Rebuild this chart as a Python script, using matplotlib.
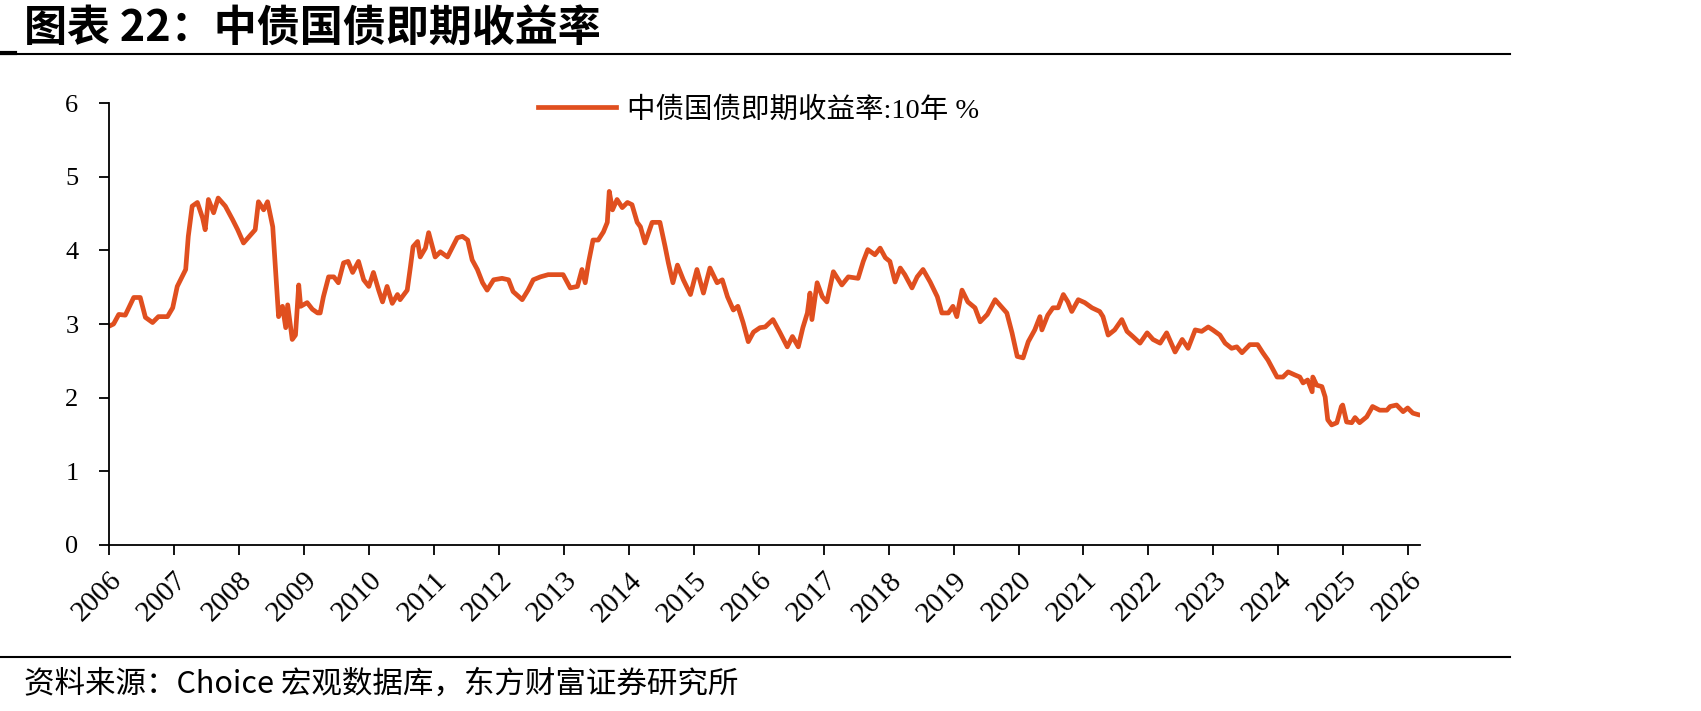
import matplotlib
matplotlib.use("Agg")
import matplotlib.pyplot as plt
from matplotlib.lines import Line2D

# 中债国债即期收益率:10年 (%)
years = [
    2006.00, 2006.07, 2006.15, 2006.25, 2006.38, 2006.48, 2006.56, 2006.67, 2006.76, 2006.90,
    2006.98, 2007.05, 2007.18, 2007.22, 2007.28, 2007.36, 2007.44, 2007.48, 2007.53, 2007.61,
    2007.68, 2007.79, 2007.90, 2007.98, 2008.07, 2008.18, 2008.25, 2008.30, 2008.38, 2008.44,
    2008.52, 2008.56, 2008.61, 2008.67, 2008.72, 2008.75, 2008.82, 2008.87, 2008.92, 2008.95,
    2009.05, 2009.13, 2009.21, 2009.25, 2009.30, 2009.38, 2009.46, 2009.53, 2009.61, 2009.68,
    2009.75, 2009.84, 2009.92, 2010.00, 2010.07, 2010.15, 2010.21, 2010.28, 2010.36, 2010.44,
    2010.48, 2010.59, 2010.64, 2010.68, 2010.75, 2010.79, 2010.87, 2010.92, 2011.02, 2011.10,
    2011.21, 2011.28, 2011.36, 2011.44, 2011.52, 2011.59, 2011.67, 2011.75, 2011.82, 2011.92,
    2012.05, 2012.15, 2012.22, 2012.36, 2012.45, 2012.53, 2012.64, 2012.76, 2012.82, 2012.99,
    2013.10, 2013.21, 2013.28, 2013.33, 2013.38, 2013.45, 2013.53, 2013.61, 2013.67, 2013.70,
    2013.75, 2013.82, 2013.90, 2013.98, 2014.05, 2014.13, 2014.18, 2014.25, 2014.36, 2014.48,
    2014.56, 2014.61, 2014.68, 2014.75, 2014.84, 2014.95, 2015.05, 2015.15, 2015.25, 2015.36,
    2015.44, 2015.52, 2015.61, 2015.68, 2015.76, 2015.84, 2015.92, 2016.02, 2016.10, 2016.22,
    2016.33, 2016.44, 2016.52, 2016.61, 2016.68, 2016.75, 2016.79, 2016.82, 2016.90, 2016.98,
    2017.05, 2017.15, 2017.28, 2017.38, 2017.53, 2017.61, 2017.68, 2017.79, 2017.87, 2017.95,
    2018.02, 2018.10, 2018.18, 2018.25, 2018.36, 2018.44, 2018.53, 2018.64, 2018.75, 2018.82,
    2018.92, 2018.99, 2019.05, 2019.13, 2019.22, 2019.33, 2019.41, 2019.52, 2019.64, 2019.75,
    2019.82, 2019.90, 2019.98, 2020.07, 2020.15, 2020.25, 2020.33, 2020.36, 2020.45, 2020.53,
    2020.61, 2020.69, 2020.76, 2020.82, 2020.92, 2021.02, 2021.13, 2021.25, 2021.30, 2021.38,
    2021.48, 2021.59, 2021.67, 2021.76, 2021.87, 2021.98, 2022.07, 2022.18, 2022.28, 2022.41,
    2022.52, 2022.61, 2022.72, 2022.82, 2022.92, 2022.99, 2023.10, 2023.18, 2023.28, 2023.36,
    2023.44, 2023.56, 2023.68, 2023.76, 2023.84, 2023.92, 2023.98, 2024.07, 2024.15, 2024.25,
    2024.33, 2024.38, 2024.45, 2024.52, 2024.53, 2024.59, 2024.67, 2024.72, 2024.76, 2024.82,
    2024.90, 2024.97, 2024.99, 2025.05, 2025.13, 2025.18, 2025.25, 2025.36, 2025.45, 2025.56,
    2025.67, 2025.72, 2025.82, 2025.92, 2025.99, 2026.07, 2026.15,
]
yields = [
    2.97, 3.00, 3.13, 3.12, 3.36, 3.36, 3.09, 3.02, 3.10, 3.10,
    3.22, 3.51, 3.74, 4.19, 4.60, 4.65, 4.44, 4.28, 4.69, 4.51,
    4.71, 4.60, 4.42, 4.28, 4.10, 4.21, 4.28, 4.66, 4.55, 4.66,
    4.32, 3.78, 3.10, 3.24, 2.95, 3.26, 2.79, 2.85, 3.53, 3.24,
    3.29, 3.20, 3.15, 3.15, 3.37, 3.64, 3.64, 3.56, 3.83, 3.85,
    3.70, 3.85, 3.60, 3.51, 3.70, 3.46, 3.30, 3.51, 3.28, 3.40,
    3.33, 3.46, 3.78, 4.05, 4.12, 3.91, 4.03, 4.24, 3.91, 3.98,
    3.91, 4.03, 4.17, 4.19, 4.14, 3.87, 3.74, 3.56, 3.46, 3.60,
    3.62, 3.60, 3.44, 3.33, 3.46, 3.60, 3.64, 3.67, 3.67, 3.67,
    3.49, 3.51, 3.74, 3.56, 3.83, 4.14, 4.14, 4.25, 4.38, 4.80,
    4.55, 4.69, 4.58, 4.65, 4.62, 4.38, 4.32, 4.10, 4.38, 4.38,
    4.05, 3.83, 3.56, 3.80, 3.60, 3.40, 3.74, 3.42, 3.76, 3.56,
    3.60, 3.37, 3.19, 3.24, 3.02, 2.76, 2.89, 2.95, 2.96, 3.06,
    2.88, 2.69, 2.83, 2.69, 2.95, 3.15, 3.42, 3.06, 3.56, 3.37,
    3.30, 3.71, 3.53, 3.64, 3.62, 3.85, 4.01, 3.94, 4.03, 3.90,
    3.85, 3.57, 3.76, 3.67, 3.49, 3.64, 3.74, 3.57, 3.37, 3.15,
    3.15, 3.24, 3.10, 3.46, 3.30, 3.22, 3.03, 3.13, 3.33, 3.22,
    3.15, 2.88, 2.56, 2.54, 2.76, 2.92, 3.10, 2.92, 3.12, 3.22,
    3.22, 3.40, 3.30, 3.17, 3.33, 3.29, 3.22, 3.17, 3.10, 2.85,
    2.92, 3.06, 2.90, 2.83, 2.74, 2.88, 2.79, 2.74, 2.88, 2.62,
    2.79, 2.67, 2.92, 2.90, 2.96, 2.92, 2.85, 2.74, 2.67, 2.69,
    2.61, 2.72, 2.72, 2.61, 2.51, 2.38, 2.28, 2.28, 2.35, 2.31,
    2.28, 2.20, 2.24, 2.08, 2.28, 2.17, 2.15, 2.01, 1.70, 1.63,
    1.66, 1.88, 1.90, 1.67, 1.66, 1.73, 1.66, 1.74, 1.88, 1.83,
    1.83, 1.88, 1.90, 1.81, 1.86, 1.79, 1.77,
]
year_ticks = list(range(2006, 2027))
y_ticks = [0, 1, 2, 3, 4, 5, 6]

series_name = "中债国债即期收益率:10年 %"
title = "图表 22：中债国债即期收益率"
source = "资料来源：Choice 宏观数据库，东方财富证券研究所"

line_color = "#E04F1F"
serif = ["Liberation Serif", "Noto Sans CJK SC"]
cjk = ["Noto Sans CJK SC", "DejaVu Sans"]

fig = plt.figure(figsize=(17.01, 7.11), dpi=100)
ax = fig.add_axes([0.0641, 0.2335, 0.7707, 0.6216])

ax.plot(years, yields, color=line_color, linewidth=3.4, solid_joinstyle="round")

ax.set_xlim(2006, 2026.18)
ax.set_ylim(0, 6)
ax.set_xticks(year_ticks)
ax.set_yticks(y_ticks)
ax.set_xticklabels([str(y) for y in year_ticks], rotation=45, ha="right",
                   va="top", rotation_mode="anchor", family=serif, fontsize=21)
ax.set_yticklabels([str(v) for v in y_ticks], family=serif, fontsize=19)
ax.tick_params(axis="x", direction="out", length=7, width=1.3, pad=9)
ax.tick_params(axis="y", direction="out", length=7, width=1.3, pad=15)

for side in ["top", "right"]:
    ax.spines[side].set_visible(False)
for side in ["left", "bottom"]:
    ax.spines[side].set_linewidth(1.3)

leg = ax.legend([Line2D([], [], color=line_color, linewidth=3.4)], [series_name],
                loc="center", bbox_to_anchor=(0.446, 0.845), bbox_transform=fig.transFigure,
                frameon=False, handlelength=2.75, handletextpad=0.4,
                prop={"family": serif, "size": 20.5})

# header / footer decorations
fig.text(0.014, 0.961, title, fontsize=31, fontweight="bold", family=cjk, va="center")
fig.add_artist(Line2D([0, 0.888], [0.924, 0.924], color="black", linewidth=1.5,
                      transform=fig.transFigure))
fig.add_artist(Line2D([0, 0.009], [0.926, 0.926], color="black", linewidth=3,
                      transform=fig.transFigure))
fig.add_artist(Line2D([0, 0.888], [0.076, 0.076], color="black", linewidth=1.5,
                      transform=fig.transFigure))
fig.text(0.014, 0.038, source, fontsize=22, family=cjk, va="center")

fig.savefig("out.png", dpi=100)
